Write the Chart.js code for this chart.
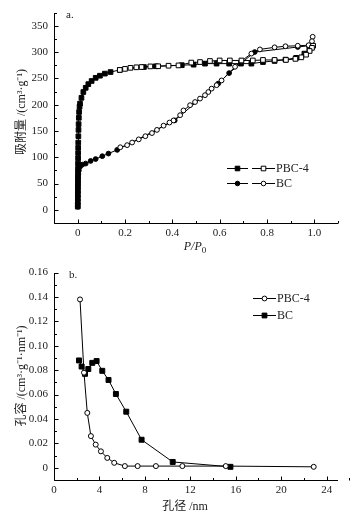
<!DOCTYPE html>
<html lang="zh">
<head>
<meta charset="utf-8">
<title>PBC-4 / BC</title>
<script src="https://cdn.jsdelivr.net/npm/chart.js@4"></script>
<style>
  html, body { margin: 0; background: #fff; }
  #wrap { position: relative; width: 352px; height: 520px; }
  canvas { position: absolute; left: 0; }
  #isoChart { top: 0; }
  #poreChart { top: 260px; }
</style>
</head>
<body>
<div id="wrap">
  <canvas id="isoChart" width="352" height="260"></canvas>
  <canvas id="poreChart" width="352" height="260"></canvas>
</div>
<script>
/* ─── a. N2 isotherms : P/P0 vs cm3/g ─── */
const pbcAdsP = [0.0005,0.0006,0.0007,0.0008,0.0009,0.001,0.0011,0.0012,0.0013,0.0014,0.0016,0.0018,0.002,0.0022,0.0025,0.003,0.0035,0.004,0.005,0.006,0.008,0.01,0.016,0.024,0.034,0.045,0.059,0.076,0.094,0.115,0.139,0.178,0.28,0.33,0.44,0.49,0.538,0.587,0.64,0.69,0.734,0.783,0.832,0.878,0.923,0.958,0.979,0.99];
const pbcAdsV = [6,14,22,30,38,46,54,62,70,78,88,98,108,118,128,140,152,163,175,186,196,202,213,224,232,239,245,251,255,259,262,266,271.5,273,275,276,278,278,278,278,278,281,283,285.6,289,297,304,312];
const pbcDesP = [0.995,0.99,0.98,0.965,0.945,0.92,0.88,0.832,0.783,0.74,0.692,0.643,0.6,0.559,0.517,0.48,0.426,0.384,0.34,0.307,0.27,0.248,0.223,0.2,0.178];
const pbcDesV = [312,308,302,295,290,287,285,285,285,284,284,284,284,283,281,280,274.6,274,273,272.7,271.5,271,270,268,266];

const bcAdsP = [0.0003,0.0004,0.0005,0.0006,0.0008,0.001,0.0012,0.0015,0.002,0.003,0.005,0.01,0.02,0.034,0.055,0.076,0.104,0.13,0.167,0.41,0.594,0.64,0.748,0.93,0.976];
const bcAdsV = [6,12,19,26,33,40,47,54,61,68,75,82,86,88,93,96.6,102,107,114,170,240,260,300,309.6,312];
const bcDesP = [0.993,0.99,0.976,0.93,0.878,0.832,0.77,0.734,0.692,0.665,0.608,0.587,0.566,0.552,0.538,0.517,0.496,0.475,0.447,0.433,0.405,0.388,0.363,0.335,0.314,0.286,0.258,0.23,0.209,0.18];
const bcDesV = [329,320.6,313,312,311,309,305,297,283,272,246,237,230.5,224,218,211.5,205,199,189,180,170,166,160,152,146,140,134,128,123,119];

const isoXTicks = [0,0.2,0.4,0.6,0.8,1.0];
const isoXLabels = ['0','0.2','0.4','0.6','0.8','1.0'];
const isoYTicks = [0,50,100,150,200,250,300,350];
const isoYLabels = ['0','50','100','150','200','250','300','350'];

/* ─── b. pore size distribution : nm vs cm3/(g·nm) ─── */
const pbcPoreD = [2.29,2.64,2.93,3.25,3.67,4.13,4.69,5.3,6.24,7.36,8.97,11.3,15.12,22.86];
const pbcPoreV = [0.138,0.078,0.045,0.026,0.019,0.0135,0.0081,0.0041,0.0014,0.0014,0.0014,0.0014,0.0014,0.0008];
const bcPoreD = [2.2,2.43,2.73,3.02,3.37,3.75,4.25,4.8,5.45,6.36,7.71,10.45,15.53];
const bcPoreV = [0.088,0.083,0.077,0.081,0.086,0.0875,0.0795,0.072,0.0605,0.046,0.023,0.0048,0.0008];

const poreXTicks = [0,4,8,12,16,20,24];
const poreXLabels = ['0','4','8','12','16','20','24'];
const poreYTicks = [0,0.02,0.04,0.06,0.08,0.10,0.12,0.14,0.16];
const poreYLabels = ['0','0.02','0.04','0.06','0.08','0.10','0.12','0.14','0.16'];

const FONT = '"Liberation Serif", "Times New Roman", serif';
const CJK = '"Liberation Serif", "Noto Sans CJK SC", serif';

function pts(xs, ys) {
  return xs.map((x, i) => ({ x: x, y: ys[i] }));
}

function series(xs, ys, style, filled, r) {
  return {
    data: pts(xs, ys),
    showLine: true,
    borderColor: '#000',
    borderWidth: 1,
    pointStyle: style,
    pointRadius: r,
    pointHoverRadius: r,
    pointBorderColor: '#000',
    pointBorderWidth: 1,
    pointBackgroundColor: filled ? '#000' : '#fff',
    tension: 0
  };
}

/* ─── markers for the hand-drawn legend ─── */
function marker(ctx, style, filled, x, y, r) {
  ctx.beginPath();
  if (style === 'rect') ctx.rect(x - r, y - r, 2 * r, 2 * r);
  else ctx.arc(x, y, r, 0, Math.PI * 2);
  ctx.fillStyle = filled ? '#000' : '#fff';
  ctx.fill();
  ctx.stroke();
}

function nearTick(v, list) {
  return list.some(t => Math.abs(t - v) < 1e-7);
}

/* ─── axes, inward ticks, titles, legend ─── */
const frame = {
  id: 'frame',
  afterDraw(chart, args, o) {
    const { ctx, chartArea: a, scales: { x, y } } = chart;
    const L = Math.round(a.left) + 0.5, B = Math.round(a.bottom) + 0.5;
    ctx.save();
    ctx.strokeStyle = '#000';
    ctx.lineWidth = 1;
    ctx.beginPath();
    ctx.moveTo(L, Math.round(a.top));
    ctx.lineTo(L, B);
    ctx.lineTo(Math.round(a.right), B);

    let n = Math.round((x.max - x.min) / o.xMinor);
    for (let i = 0; i <= n; i++) {
      const v = x.min + i * o.xMinor;
      const px = Math.round(x.getPixelForValue(v)) + 0.5;
      const len = nearTick(v, o.xMajor) ? 4 : 2.5;
      ctx.moveTo(px, B);
      ctx.lineTo(px, B - len);
    }
    n = Math.round((y.max - y.min) / o.yMinor);
    for (let i = 0; i <= n; i++) {
      const v = y.min + i * o.yMinor;
      const py = Math.round(y.getPixelForValue(v)) + 0.5;
      const len = nearTick(v, o.yMajor) ? 4 : 2.5;
      ctx.moveTo(L, py);
      ctx.lineTo(L + len, py);
    }
    ctx.stroke();

    // y title
    ctx.fillStyle = '#222';
    ctx.textBaseline = 'middle';
    ctx.save();
    ctx.translate(22, o.yTitleY);
    ctx.rotate(-Math.PI / 2);
    ctx.textAlign = 'center';
    ctx.font = '12px ' + CJK;
    ctx.fillText(o.yTitle, 0, 0);
    ctx.restore();

    // x title
    if (o.xTitleSub) {
      ctx.font = 'italic 12px ' + FONT;
      const w1 = ctx.measureText(o.xTitle).width;
      ctx.font = '9px ' + FONT;
      const w2 = ctx.measureText(o.xTitleSub).width;
      const x0 = o.xTitleX - (w1 + w2) / 2;
      ctx.textAlign = 'left';
      ctx.font = 'italic 12px ' + FONT;
      ctx.fillText(o.xTitle, x0, o.xTitleY);
      ctx.font = '9px ' + FONT;
      ctx.fillText(o.xTitleSub, x0 + w1, o.xTitleY + 4);
    } else {
      ctx.textAlign = 'center';
      ctx.font = '12px ' + CJK;
      ctx.fillText(o.xTitle, o.xTitleX, o.xTitleY);
    }

    // panel label
    ctx.textAlign = 'left';
    ctx.font = '11px ' + FONT;
    ctx.fillText(o.panel, o.panelX, o.panelY);

    // legend
    ctx.font = '12px ' + FONT;
    o.legend.forEach(row => {
      const yy = Math.round(row.y) + 0.5;
      row.segs.forEach(s => {
        ctx.beginPath();
        ctx.moveTo(s.x0, yy);
        ctx.lineTo(s.x1, yy);
        ctx.stroke();
        marker(ctx, s.style, s.filled, (s.x0 + s.x1) / 2, yy, s.r);
      });
      ctx.fillStyle = '#222';
      ctx.fillText(row.label, row.tx, yy);
    });
    ctx.restore();
  }
};
Chart.register(frame);

function axis(min, max, ticks, labels, isX, size, pad) {
  return {
    type: 'linear',
    min: min,
    max: max,
    grid: { display: false, drawTicks: false },
    border: { display: false },
    afterBuildTicks: s => { s.ticks = ticks.map(v => ({ value: v })); },
    afterFit: s => { if (isX) s.height = size; else s.width = size; },
    ticks: {
      autoSkip: false,
      maxRotation: 0,
      padding: pad,
      color: '#222',
      font: { family: FONT, size: 11 },
      callback: (v, i) => labels[i]
    }
  };
}

function baseOptions(xScale, yScale, frameOpts) {
  return {
    responsive: false,
    animation: false,
    devicePixelRatio: 1,
    layout: { padding: { left: 0, right: 14, top: 12, bottom: 0 } },
    plugins: { legend: { display: false }, tooltip: { enabled: false }, frame: frameOpts },
    scales: { x: xScale, y: yScale }
  };
}

/* ─── Chart a ─── */
new Chart(document.getElementById('isoChart'), {
  type: 'scatter',
  data: {
    datasets: [
      series(pbcDesP, pbcDesV, 'rect', false, 3.3),
      series(bcDesP, bcDesV, 'circle', false, 2.4),
      series(bcAdsP, bcAdsV, 'circle', true, 2.4),
      series(pbcAdsP, pbcAdsV, 'rect', true, 3.3)
    ]
  },
  options: baseOptions(
    axis(-0.1, 1.1, isoXTicks, isoXLabels, true, 37, 4),
    axis(-25, 375, isoYTicks, isoYLabels, false, 54, 6),
    {
      xMinor: 0.1, xMajor: isoXTicks, yMinor: 25, yMajor: isoYTicks,
      yTitle: '吸附量 /(cm³·g⁻¹)', yTitleY: 112,
      xTitle: 'P/P', xTitleSub: '0', xTitleX: 195, xTitleY: 247,
      panel: 'a.', panelX: 66, panelY: 15,
      legend: [
        { y: 168, label: 'PBC-4', tx: 276, segs: [
          { x0: 227, x1: 248, style: 'rect', filled: true, r: 2.3 },
          { x0: 252, x1: 275, style: 'rect', filled: false, r: 2.3 } ] },
        { y: 183, label: 'BC', tx: 276, segs: [
          { x0: 227, x1: 248, style: 'circle', filled: true, r: 2.3 },
          { x0: 252, x1: 275, style: 'circle', filled: false, r: 2.3 } ] }
      ]
    })
});

/* ─── Chart b ─── */
new Chart(document.getElementById('poreChart'), {
  type: 'scatter',
  data: {
    datasets: [
      series(pbcPoreD, pbcPoreV, 'circle', false, 2.5),
      series(bcPoreD, bcPoreV, 'rect', true, 3.5)
    ]
  },
  options: baseOptions(
    axis(0, 25, poreXTicks, poreXLabels, true, 40, 4),
    axis(-0.01, 0.16, poreYTicks, poreYLabels, false, 54, 6),
    {
      xMinor: 2, xMajor: poreXTicks, yMinor: 0.01, yMajor: poreYTicks,
      yTitle: '孔容 /(cm³·g⁻¹·nm⁻¹)', yTitleY: 116,
      xTitle: '孔径 /nm', xTitleX: 185, xTitleY: 247,
      panel: 'b.', panelX: 69, panelY: 15,
      legend: [
        { y: 38, label: 'PBC-4', tx: 277, segs: [
          { x0: 253, x1: 276, style: 'circle', filled: false, r: 2.4 } ] },
        { y: 55, label: 'BC', tx: 277, segs: [
          { x0: 253, x1: 276, style: 'rect', filled: true, r: 2.4 } ] }
      ]
    })
});
</script>
</body>
</html>
